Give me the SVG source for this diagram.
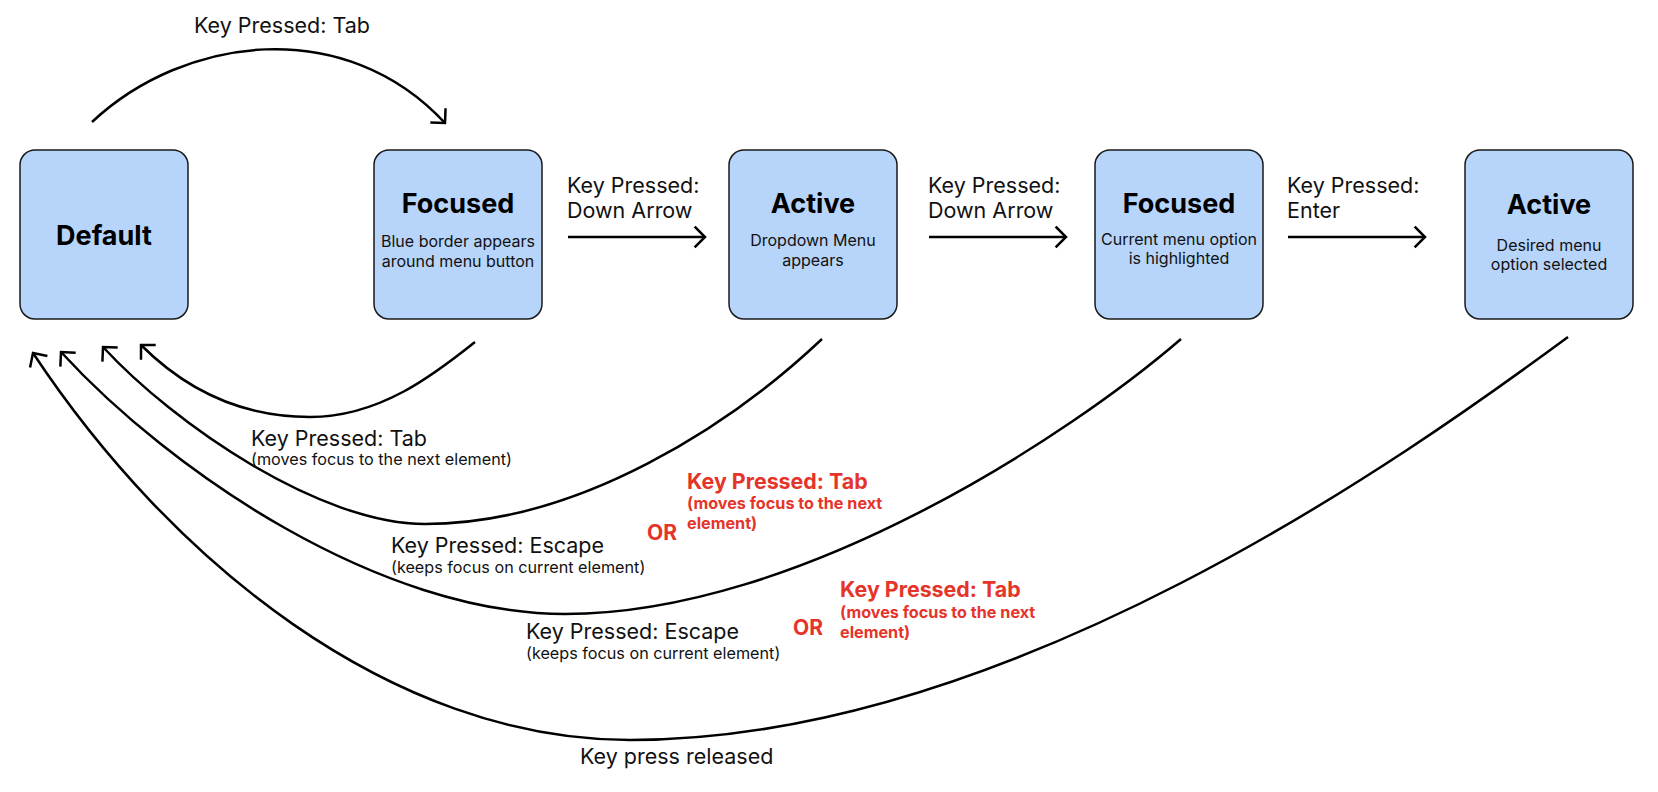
<svg xmlns="http://www.w3.org/2000/svg" width="1658" height="792" viewBox="0 0 1658 792">
<style>
.box{fill:#B7D4FA;stroke:#1a1a1a;stroke-width:1.5}
.title{font-family:Inter,"Noto Sans",sans-serif;font-weight:700;font-size:27px;fill:#000;text-anchor:middle}
.sub{font-family:Inter,"Noto Sans",sans-serif;font-size:16px;fill:#111;text-anchor:middle}
.lbl{font-family:Inter,"Noto Sans",sans-serif;font-size:21.5px;fill:#111}
.small{font-family:Inter,"Noto Sans",sans-serif;font-size:16.2px;fill:#111}
.red{font-family:Inter,"Noto Sans",sans-serif;font-weight:700;fill:#E5342A}
.wire{fill:none;stroke:#000;stroke-width:2.5;marker-end:url(#arr)}
</style>
<defs>
<marker id="arr" viewBox="-12 -12 14 24" markerWidth="14" markerHeight="24" refX="0" refY="0" orient="auto" markerUnits="userSpaceOnUse">
<path d="M -9.5 -9.5 L 0 0 L -9.5 9.5" fill="none" stroke="#000" stroke-width="2.5" stroke-linecap="square"/>
</marker>
</defs>
<rect width="1658" height="792" fill="#fff"/>
<g id="connectors">
<path class="wire" d="M 92 122 C 185 35, 345 15, 445 123"/>
<path class="wire" d="M 568 237 L 705 237"/>
<path class="wire" d="M 929 237 L 1066 237"/>
<path class="wire" d="M 1288 237 L 1425 237"/>
<path class="wire" d="M 475 342 C 435 374, 380 417, 310 417 C 240 417, 186 390, 141 345"/>
<path class="wire" d="M 822 339 C 732 424, 580 524, 425 524 C 320 524, 175 425, 103 347"/>
<path class="wire" d="M 1181 339 C 1071 434, 800 614, 565 614 C 380 614, 171 472, 61 352"/>
<path class="wire" d="M 1568 337 C 1408 455, 1010 740, 630 740 C 390 740, 170 560, 33 353"/>
</g>
<g id="labels">
<text class="lbl" x="194" y="33">Key Pressed: Tab</text>
<text class="lbl" x="567" y="193">Key Pressed:</text>
<text class="lbl" x="567" y="218">Down Arrow</text>
<text class="lbl" x="928" y="193">Key Pressed:</text>
<text class="lbl" x="928" y="218">Down Arrow</text>
<text class="lbl" x="1287" y="193">Key Pressed:</text>
<text class="lbl" x="1287" y="218">Enter</text>
<text class="lbl" x="251" y="446">Key Pressed: Tab</text>
<text class="small" x="251" y="465">(moves focus to the next element)</text>
<text class="lbl" x="391" y="553">Key Pressed: Escape</text>
<text class="small" x="391" y="573">(keeps focus on current element)</text>
<text class="lbl" x="526" y="639">Key Pressed: Escape</text>
<text class="small" x="526" y="659">(keeps focus on current element)</text>
<text class="red" x="647" y="540" font-size="21">OR</text>
<text class="red" x="687" y="489" font-size="21.4">Key Pressed: Tab</text>
<text class="red" x="687" y="509" font-size="16.2">(moves focus to the next</text>
<text class="red" x="687" y="529" font-size="16.2">element)</text>
<text class="red" x="793" y="635" font-size="21">OR</text>
<text class="red" x="840" y="597" font-size="21.4">Key Pressed: Tab</text>
<text class="red" x="840" y="618" font-size="16.2">(moves focus to the next</text>
<text class="red" x="840" y="638" font-size="16.2">element)</text>
<text class="lbl" x="580" y="764">Key press released</text>
</g>
<g id="default">
<rect class="box" x="20" y="150" width="168" height="169" rx="15"/>
<text class="title" x="104" y="245">Default</text>
</g>
<g id="focused1">
<rect class="box" x="374" y="150" width="168" height="169" rx="15"/>
<text class="title" x="458" y="213">Focused</text>
<text class="sub" x="458" y="247">Blue border appears</text>
<text class="sub" x="458" y="267">around menu button</text>
</g>
<g id="active1">
<rect class="box" x="729" y="150" width="168" height="169" rx="15"/>
<text class="title" x="813" y="213">Active</text>
<text class="sub" x="813" y="246">Dropdown Menu</text>
<text class="sub" x="813" y="266">appears</text>
</g>
<g id="focused2">
<rect class="box" x="1095" y="150" width="168" height="169" rx="15"/>
<text class="title" x="1179" y="213">Focused</text>
<text class="sub" x="1179" y="245">Current menu option</text>
<text class="sub" x="1179" y="264">is highlighted</text>
</g>
<g id="active2">
<rect class="box" x="1465" y="150" width="168" height="169" rx="15"/>
<text class="title" x="1549" y="214">Active</text>
<text class="sub" x="1549" y="251">Desired menu</text>
<text class="sub" x="1549" y="270">option selected</text>
</g>
</svg>
